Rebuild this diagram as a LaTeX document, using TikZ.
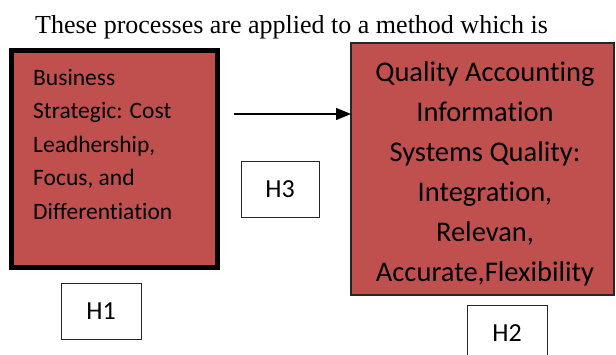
\documentclass[tikz,border=0pt]{standalone}
\usepackage{fontspec}
\setmainfont{Carlito}[Ligatures=NoCommon]
\newfontfamily\timesfont{Liberation Serif}
\usetikzlibrary{arrows.meta}
\definecolor{boxred}{RGB}{192,80,77}
\tikzset{
  redbox/.style={fill=boxred, inner sep=0pt, outer sep=0pt},
  hbox/.style={draw=black!85, line width=1pt, fill=white, minimum width=80pt, minimum height=56pt, inner sep=0pt, outer sep=0pt, font=\fontsize{26}{30}\selectfont},
  conn/.style={line width=1.3pt, -{Triangle[length=15pt,width=12pt]}}
}
\begin{document}
\begin{tikzpicture}[x=1pt,y=-1pt]
\useasboundingbox (0,0) rectangle (616,354);
\node[anchor=base west, inner sep=0pt] (title) at (35,33)
  {\timesfont\fontsize{26}{30}\selectfont These processes are applied to a method which is};
\node[redbox, draw=black, line width=5pt, minimum width=206pt, minimum height=217pt] (strat) at (114.5,159) {};
\node[anchor=north west, inner sep=0pt, align=left, font=\fontsize{23.5}{33.5}\selectfont] (strattext) at (33,69)
  {Business\\Strategic: Cost\\Leadhership,\\Focus, and\\Differentiation};
\node[redbox, draw=black!85, line width=1.2pt, minimum width=263pt, minimum height=252pt] (quality) at (482.5,169) {};
\node[inner sep=0pt, align=center, font=\fontsize{28.5}{40}\selectfont] (qualitytext) at (485,174)
  {Quality Accounting\\Information\\Systems Quality:\\Integration,\\Relevan,\\Accurate,Flexibility};
\node[hbox, minimum width=78pt] (h3) at (280,189) {H3};
\node[hbox] (h1) at (101,311) {H1};
\node[hbox] (h2) at (507,333) {H2};
\coordinate (astart) at (234,114);
\draw[conn] (astart) -- (astart -| quality.west);
\end{tikzpicture}
\end{document}
